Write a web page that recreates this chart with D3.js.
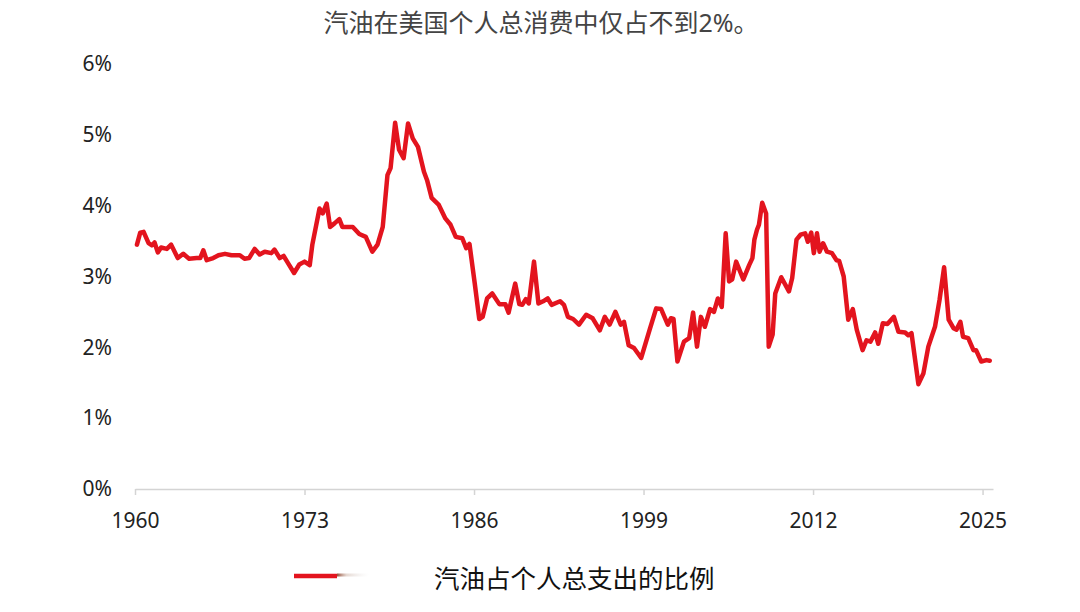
<!DOCTYPE html>
<html>
<head>
<meta charset="utf-8">
<script src="https://cdn.jsdelivr.net/npm/d3@7"></script>
<style>
  body { margin: 0; background: #fff; }
  svg text { font-family: "Noto Sans", "Noto Sans CJK SC", sans-serif; }
</style>
</head>
<body>
<div id="wrapper"></div>
<script>
// Gasoline share of total personal consumption expenditure (%)
const years = [
  1960.15, 1960.4, 1960.66, 1961.04, 1961.3, 1961.5, 1961.75, 1962.0, 1962.44, 1962.77,
  1963.28, 1963.7, 1964.15, 1964.73, 1965.0, 1965.24, 1965.5, 1966.0, 1966.4, 1966.9,
  1967.4, 1968.04, 1968.4, 1968.75, 1969.18, 1969.56, 1969.95, 1970.46, 1970.7, 1971.1,
  1971.4, 1971.7, 1972.2, 1972.6, 1973.0, 1973.4, 1973.6, 1974.15, 1974.4, 1974.7,
  1974.96, 1975.3, 1975.67, 1975.9, 1976.7, 1977.2, 1977.7, 1978.2, 1978.6, 1979.0,
  1979.36, 1979.6, 1979.95, 1980.25, 1980.6, 1980.94, 1981.3, 1981.7, 1982.16, 1982.4,
  1982.75, 1983.3, 1983.8, 1984.2, 1984.6, 1985.1, 1985.4, 1985.65, 1986.05, 1986.4,
  1986.66, 1987.0, 1987.4, 1987.94, 1988.4, 1988.65, 1989.16, 1989.47, 1989.7, 1989.97,
  1990.2, 1990.6, 1990.94, 1991.3, 1991.65, 1991.95, 1992.6, 1992.9, 1993.2, 1993.6,
  1994.05, 1994.6, 1995.1, 1995.65, 1996.03, 1996.4, 1996.84, 1997.25, 1997.5, 1997.86,
  1998.27, 1998.82, 1999.47, 1999.97, 2000.35, 2000.86, 2001.1, 2001.3, 2001.6, 2002.1,
  2002.5, 2002.8, 2003.1, 2003.4, 2003.7, 2004.1, 2004.4, 2004.7, 2005.0, 2005.3,
  2005.56, 2005.8, 2006.1, 2006.65, 2007.1, 2007.35, 2007.5, 2007.7, 2007.85, 2008.1,
  2008.4, 2008.6, 2008.9, 2009.1, 2009.56, 2010.15, 2010.4, 2010.73, 2011.04, 2011.4,
  2011.6, 2011.86, 2012.06, 2012.3, 2012.5, 2012.77, 2013.07, 2013.45, 2013.8, 2014.0,
  2014.35, 2014.7, 2015.05, 2015.35, 2015.8, 2016.1, 2016.4, 2016.76, 2017.0, 2017.35,
  2017.7, 2018.2, 2018.55, 2019.06, 2019.3, 2019.55, 2020.08, 2020.46, 2020.84, 2021.35,
  2021.7, 2022.05, 2022.4, 2022.77, 2023.0, 2023.3, 2023.5, 2023.9, 2024.3, 2024.5,
  2024.9, 2025.3, 2025.55
];
const shares = [
  3.45, 3.62, 3.63, 3.47, 3.44, 3.48, 3.34, 3.41, 3.39, 3.45,
  3.26, 3.32, 3.25, 3.26, 3.26, 3.37, 3.23, 3.26, 3.30, 3.32,
  3.30, 3.30, 3.25, 3.26, 3.39, 3.31, 3.35, 3.33, 3.38, 3.26,
  3.29, 3.20, 3.05, 3.17, 3.21, 3.16, 3.45, 3.96, 3.89, 4.03,
  3.70, 3.75, 3.81, 3.70, 3.70, 3.60, 3.56, 3.35, 3.45, 3.70,
  4.43, 4.53, 5.17, 4.79, 4.67, 5.16, 4.95, 4.83, 4.48, 4.36,
  4.11, 4.01, 3.82, 3.73, 3.56, 3.54, 3.40, 3.46, 2.91, 2.40,
  2.43, 2.69, 2.76, 2.61, 2.61, 2.49, 2.90, 2.61, 2.60, 2.68,
  2.62, 3.21, 2.62, 2.65, 2.69, 2.60, 2.65, 2.60, 2.43, 2.40,
  2.32, 2.46, 2.41, 2.24, 2.43, 2.32, 2.50, 2.32, 2.36, 2.03,
  1.99, 1.85, 2.25, 2.55, 2.54, 2.32, 2.41, 2.40, 1.80, 2.08,
  2.13, 2.49, 2.01, 2.43, 2.29, 2.54, 2.50, 2.69, 2.57, 3.61,
  2.93, 2.96, 3.21, 2.96, 3.16, 3.26, 3.52, 3.66, 3.73, 4.04,
  3.89, 2.01, 2.18, 2.76, 2.99, 2.79, 2.98, 3.52, 3.59, 3.61,
  3.49, 3.62, 3.33, 3.61, 3.35, 3.47, 3.35, 3.33, 3.23, 3.22,
  3.00, 2.39, 2.54, 2.25, 1.96, 2.10, 2.08, 2.21, 2.05, 2.34,
  2.33, 2.43, 2.22, 2.21, 2.17, 2.20, 1.48, 1.63, 2.01, 2.29,
  2.67, 3.13, 2.39, 2.27, 2.25, 2.36, 2.15, 2.13, 1.96, 1.96,
  1.80, 1.82, 1.81
];
const xTicks = [1960, 1973, 1986, 1999, 2012, 2025];
const yTicks = [0, 1, 2, 3, 4, 5, 6];
const title = "汽油在美国个人总消费中仅占不到2%。";
const seriesName = "汽油占个人总支出的比例";

const data = years.map((y, i) => ({ year: y, share: shares[i] }));
const xAccessor = d => d.year;
const yAccessor = d => d.share;

const dimensions = {
  width: 1080,
  height: 612,
  margins: { top: 64, right: 87, bottom: 123, left: 135 },
};
dimensions.boundedWidth = dimensions.width - dimensions.margins.left - dimensions.margins.right;
dimensions.boundedHeight = dimensions.height - dimensions.margins.top - dimensions.margins.bottom;

const red = "#e3141e";

const wrapper = d3.select("#wrapper")
  .append("svg")
    .attr("width", dimensions.width)
    .attr("height", dimensions.height);

const bounds = wrapper.append("g")
  .attr("transform", `translate(${dimensions.margins.left},${dimensions.margins.top})`);

// axis runs a little past 2025, to the last data point
const xScale = d3.scaleLinear()
  .domain([1960, 2025.8])
  .range([0, dimensions.boundedWidth]);
const yScale = d3.scaleLinear()
  .domain([0, 6])
  .range([dimensions.boundedHeight, 0]);

// title
wrapper.append("text")
  .attr("x", 541)
  .attr("y", 22)
  .attr("text-anchor", "middle")
  .attr("dominant-baseline", "central")
  .attr("fill", "#444")
  .style("font-size", "25px")
  .text(title);

// y axis: labels only
const yAxis = bounds.append("g")
  .call(d3.axisLeft(yScale).tickValues(yTicks).tickSize(0).tickPadding(23).tickFormat(d => d + "%"));
yAxis.select(".domain").remove();
yAxis.selectAll("text")
  .attr("fill", "#222")
  .style("font-size", "21px")
  .style("font-family", "\"Noto Sans\", sans-serif");

// x axis
const xAxis = bounds.append("g")
  .attr("transform", `translate(0,${dimensions.boundedHeight})`)
  .call(d3.axisBottom(xScale).tickValues(xTicks).tickSize(6).tickSizeOuter(0).tickPadding(18).tickFormat(d3.format("d")));
xAxis.select(".domain").attr("stroke", "#d4d4d4").attr("stroke-width", 1.5);
xAxis.selectAll(".tick line").attr("stroke", "#d4d4d4").attr("stroke-width", 1.5);
xAxis.selectAll("text")
  .attr("fill", "#222")
  .style("font-size", "21px")
  .style("font-family", "\"Noto Sans\", sans-serif");

// the series
const lineGenerator = d3.line()
  .x(d => xScale(xAccessor(d)))
  .y(d => yScale(yAccessor(d)));

bounds.append("path")
  .attr("d", lineGenerator(data))
  .attr("fill", "none")
  .attr("stroke", red)
  .attr("stroke-width", 4.5)
  .attr("stroke-linejoin", "round")
  .attr("stroke-linecap", "round");

// legend
const legend = wrapper.append("g").attr("transform", "translate(294,576)");
const grad = wrapper.append("defs").append("linearGradient")
  .attr("id", "fade")
  .attr("x1", "0%").attr("x2", "100%");
grad.append("stop").attr("offset", "0%").attr("stop-color", "#8a3a22").attr("stop-opacity", 0.9);
grad.append("stop").attr("offset", "30%").attr("stop-color", "#c0a090").attr("stop-opacity", 0.4);
grad.append("stop").attr("offset", "100%").attr("stop-color", "#d8d8d8").attr("stop-opacity", 0);
legend.append("line")
  .attr("x1", 0).attr("x2", 43)
  .attr("y1", 0).attr("y2", 0)
  .attr("stroke", red)
  .attr("stroke-width", 4.5);
legend.append("rect")
  .attr("x", 43).attr("y", -2.5)
  .attr("width", 32).attr("height", 3)
  .attr("fill", "url(#fade)");
legend.append("text")
  .attr("x", 140)
  .attr("y", 2)
  .attr("dominant-baseline", "central")
  .attr("fill", "#111")
  .style("font-size", "25.5px")
  .text(seriesName);
</script>
</body>
</html>
